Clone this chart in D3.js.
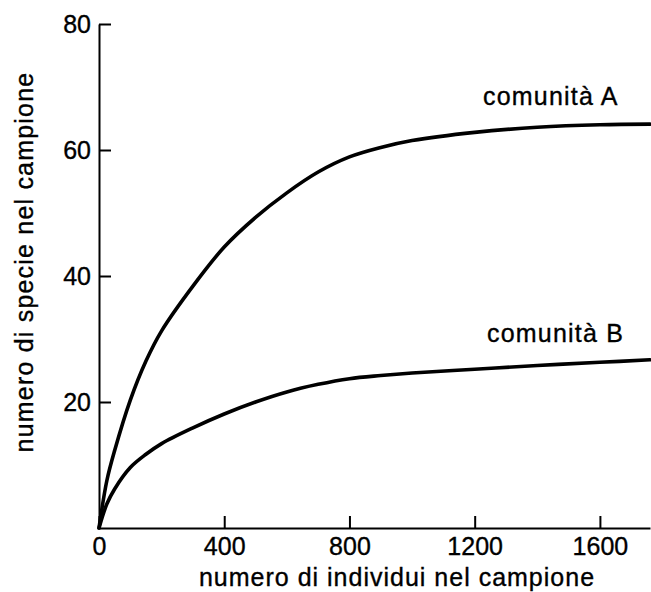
<!DOCTYPE html>
<html>
<head>
<meta charset="utf-8">
<script src="https://cdn.jsdelivr.net/npm/d3@7"></script>
<style>
  body { margin: 0; background: #fff; }
  svg text { font-family: "Liberation Sans", Arial, sans-serif; fill: #000; stroke: #000; stroke-width: 0.35px; }
</style>
</head>
<body>
<div id="chart"></div>
<script>
  // dati
  var sampleSize = [0, 25, 50, 100, 150, 200, 300, 400, 500, 600, 700, 800, 900, 1000, 1200, 1400, 1600, 1760];
  var speciesA = [0, 7.5, 12.3, 20.3, 26.5, 31.3, 38.4, 44.6, 49.3, 53.2, 56.5, 58.9, 60.4, 61.5, 62.8, 63.6, 64, 64.1];
  var speciesB = [0, 3.8, 6.2, 9.6, 11.7, 13.4, 15.9, 18.1, 20.0, 21.6, 22.8, 23.7, 24.2, 24.6, 25.2, 25.8, 26.3, 26.7];
  var xTicks = [0, 400, 800, 1200, 1600];
  var yTicks = [20, 40, 60, 80];
  var seriesNames = ['comunità A', 'comunità B'];

  var width = 651, height = 592;

  var svg = d3.select('#chart').append('svg')
    .attr('width', width)
    .attr('height', height);

  var x = d3.scaleLinear().domain([0, 1760]).range([99, 650]);
  var y = d3.scaleLinear().domain([0, 80]).range([528, 24]);

  var xAxis = d3.axisBottom(x)
    .tickValues(xTicks)
    .tickFormat(d3.format('d'))
    .tickSizeInner(-12)
    .tickSizeOuter(0)
    .tickPadding(9);

  var yAxis = d3.axisLeft(y)
    .tickValues(yTicks)
    .tickFormat(d3.format('d'))
    .tickSizeInner(-12)
    .tickSizeOuter(0)
    .tickPadding(8);

  var gx = svg.append('g')
    .attr('transform', 'translate(0,' + y(0) + ')')
    .call(xAxis);

  var gy = svg.append('g')
    .attr('transform', 'translate(' + x(0) + ',0)')
    .call(yAxis);

  [gx, gy].forEach(function(g) {
    g.selectAll('path, line').attr('stroke', '#000').attr('stroke-width', 2);
    g.selectAll('text')
      .attr('fill', '#000')
      .style('font-size', '25px')
      .style('font-family', '"Liberation Sans", Arial, sans-serif');
  });

  var line = d3.line()
    .x(function(d) { return x(d[0]); })
    .y(function(d) { return y(d[1]); })
    .curve(d3.curveCatmullRom.alpha(0.5));

  [speciesA, speciesB].forEach(function(vals) {
    svg.append('path')
      .datum(sampleSize.map(function(s, i) { return [s, vals[i]]; }))
      .attr('d', line)
      .attr('fill', 'none')
      .attr('stroke', '#000')
      .attr('stroke-width', 3.6)
      .attr('stroke-linecap', 'round');
  });

  // etichette delle curve
  svg.append('text')
    .attr('x', 483).attr('y', 105)
    .style('font-size', '25px')
    .style('letter-spacing', '1.2px')
    .text(seriesNames[0]);

  svg.append('text')
    .attr('x', 487).attr('y', 342)
    .style('font-size', '25px')
    .style('letter-spacing', '1.2px')
    .text(seriesNames[1]);

  // titoli degli assi
  svg.append('text')
    .attr('x', 397).attr('y', 586)
    .attr('text-anchor', 'middle')
    .style('font-size', '25px')
    .style('letter-spacing', '1px')
    .text('numero di individui nel campione');

  svg.append('text')
    .attr('transform', 'translate(33,262) rotate(-90)')
    .attr('text-anchor', 'middle')
    .style('font-size', '25px')
    .style('letter-spacing', '1.2px')
    .text('numero di specie nel campione');
</script>
</body>
</html>
